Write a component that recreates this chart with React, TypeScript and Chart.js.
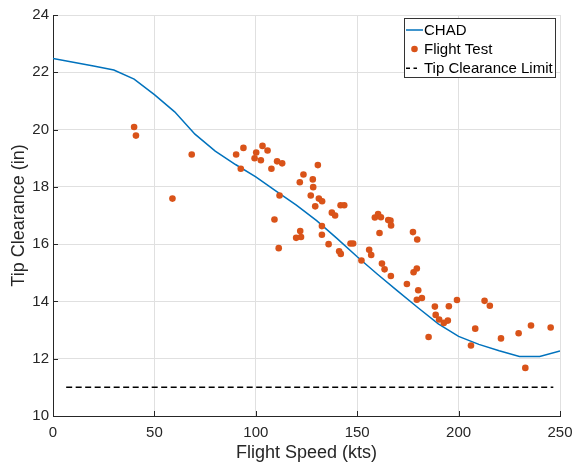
import React, { useEffect, useRef } from "react";
import { Chart, registerables } from "chart.js";

Chart.register(...registerables);

// CHAD prediction (speed in kts, clearance in inches)
const chadSpeed = [0, 10, 20, 30, 40, 50, 60, 70, 80, 90, 100, 110, 120, 130, 140, 150, 160, 170, 180, 190, 200, 210, 220, 230, 240, 250];
const chadClearance = [22.48, 22.35, 22.22, 22.08, 21.76, 21.22, 20.62, 19.84, 19.25, 18.78, 18.35, 17.85, 17.36, 16.82, 16.2, 15.56, 14.95, 14.36, 13.78, 13.22, 12.78, 12.5, 12.28, 12.08, 12.08, 12.27];

// Flight test measurements
const flightSpeed = [
  40.0, 40.9, 58.9, 68.4, 90.3, 92.6, 93.9, 99.4, 100.2, 102.5,
  103.3, 105.8, 107.7, 110.5, 113.0, 111.7, 109.2, 111.3, 121.7, 123.5,
  130.6, 128.1, 128.3, 127.1, 129.3, 121.9, 119.9, 122.3, 131.1, 132.7,
  141.8, 143.6, 137.5, 139.1, 132.6, 132.6, 135.9, 141.1, 141.9, 146.7,
  148.0, 152.1, 155.9, 156.9, 158.7, 160.3, 161.7, 161.0, 165.3, 166.4,
  166.7, 162.2, 163.5, 166.6, 177.5, 179.6, 177.8, 179.4, 174.5, 180.1,
  179.4, 181.9, 188.3, 188.7, 190.4, 192.7, 194.7, 195.2, 199.2, 185.2,
  206.1, 208.2, 212.8, 215.4, 220.9, 229.6, 232.9, 235.7, 245.4,
];
const flightClearance = [
  20.09, 19.79, 17.59, 19.13, 19.13, 18.63, 19.36, 19.0, 19.2, 18.93,
  19.43, 19.27, 18.63, 18.89, 18.82, 17.7, 16.86, 15.86, 18.16, 18.43,
  18.76, 18.26, 17.99, 17.7, 17.32, 16.46, 16.22, 16.25, 17.59, 17.5,
  17.36, 17.36, 17.1, 17.0, 16.63, 16.33, 16.0, 15.75, 15.66, 16.02,
  16.02, 15.43, 15.8, 15.62, 16.93, 17.05, 16.94, 16.39, 16.84, 16.82,
  16.65, 15.32, 15.12, 14.89, 16.42, 16.16, 15.02, 15.15, 14.61, 14.39,
  14.06, 14.12, 13.82, 13.53, 13.37, 13.25, 13.33, 13.83, 14.05, 12.76,
  12.46, 13.05, 14.02, 13.85, 12.71, 12.89, 11.68, 13.16, 13.09,
];

// Tip clearance limit
const limitSpeed = [6.5, 246.7];
const limitClearance = [11, 11];

const xTicks = [0, 50, 100, 150, 200, 250];
const yTicks = [10, 12, 14, 16, 18, 20, 22, 24];
const legendLabels = ["CHAD", "Flight Test", "Tip Clearance Limit"];
const xTitle = "Flight Speed (kts)";
const yTitle = "Tip Clearance (in)";

const FONT = '"Liberation Sans", Arial, Helvetica, sans-serif';
const AXIS = "#262626";
const GRID = "#e0e0e0";
const BLUE = "#0072BD";
const ORANGE = "#D95319";

const overlay = {
  id: "matlabOverlay",
  afterDraw(chart: any) {
    const { ctx, chartArea, scales } = chart;
    const xs = scales.x;
    const ys = scales.y;
    ctx.save();
    // inward ticks
    ctx.strokeStyle = AXIS;
    ctx.lineWidth = 1;
    xTicks.forEach((v) => {
      const px = Math.round(xs.getPixelForValue(v)) + 0.5;
      ctx.beginPath();
      ctx.moveTo(px, chartArea.bottom);
      ctx.lineTo(px, chartArea.bottom - 5);
      ctx.stroke();
    });
    yTicks.forEach((v) => {
      const py = Math.round(ys.getPixelForValue(v)) + 0.5;
      ctx.beginPath();
      ctx.moveTo(chartArea.left, py);
      ctx.lineTo(chartArea.left + 5, py);
      ctx.stroke();
    });

    // legend box
    const bx = Math.round(chartArea.right) - 155.5;
    const by = Math.round(chartArea.top) + 3.5;
    const bw = 151;
    const bh = 59;
    ctx.fillStyle = "#ffffff";
    ctx.fillRect(bx, by, bw, bh);
    ctx.strokeStyle = "#333333";
    ctx.lineWidth = 1;
    ctx.strokeRect(bx, by, bw, bh);

    const rowY = [by + 11.5, by + 30.5, by + 49.8];
    const sx0 = bx + 1.5;
    const sx1 = bx + 18.5;
    const tx = bx + 19.5;
    ctx.font = `15px ${FONT}`;
    ctx.textBaseline = "middle";
    ctx.textAlign = "left";

    // CHAD
    ctx.strokeStyle = BLUE;
    ctx.lineWidth = 1.5;
    ctx.beginPath();
    ctx.moveTo(sx0, rowY[0]);
    ctx.lineTo(sx1, rowY[0]);
    ctx.stroke();
    // Flight test
    ctx.fillStyle = ORANGE;
    ctx.beginPath();
    ctx.arc((sx0 + sx1) / 2, rowY[1], 3.3, 0, Math.PI * 2);
    ctx.fill();
    // Limit
    ctx.strokeStyle = "#000000";
    ctx.lineWidth = 1.5;
    ctx.setLineDash([4, 3.5]);
    ctx.beginPath();
    ctx.moveTo(sx0, rowY[2]);
    ctx.lineTo(sx1 - 6, rowY[2]);
    ctx.stroke();
    ctx.setLineDash([]);

    ctx.fillStyle = "#000000";
    legendLabels.forEach((t, i) => {
      ctx.fillText(t, tx, rowY[i] + 0.5);
    });
    ctx.restore();
  },
};

export default function App() {
  const ref = useRef<HTMLCanvasElement | null>(null);
  useEffect(() => {
    document.body.style.margin = "0";
    const canvas = ref.current;
    if (!canvas) return;
    const chart = new Chart(canvas, {
      type: "line",
      data: {
        datasets: [
          {
            label: legendLabels[0],
            data: chadSpeed.map((x, i) => ({ x, y: chadClearance[i] })),
            borderColor: BLUE,
            borderWidth: 1.5,
            pointRadius: 0,
            tension: 0,
            fill: false,
            order: 1,
          },
          {
            type: "scatter",
            label: legendLabels[1],
            data: flightSpeed.map((x, i) => ({ x, y: flightClearance[i] })),
            backgroundColor: ORANGE,
            borderColor: ORANGE,
            borderWidth: 0,
            pointRadius: 3.3,
            showLine: false,
            order: 0,
          },
          {
            label: legendLabels[2],
            data: limitSpeed.map((x, i) => ({ x, y: limitClearance[i] })),
            borderColor: "#000000",
            borderWidth: 1.5,
            borderDash: [6, 3.5],
            pointRadius: 0,
            fill: false,
            order: 2,
          },
        ],
      } as any,
      options: {
        animation: false,
        responsive: false,
        devicePixelRatio: 1,
        layout: { padding: { top: 15, right: 14, bottom: 0, left: 0 } },
        plugins: {
          legend: { display: false },
          tooltip: { enabled: false },
        },
        scales: {
          x: {
            type: "linear",
            min: 0,
            max: 250,
            afterFit: (s: any) => {
              s.height = 51;
              s.paddingLeft = 0;
              s.paddingRight = 0;
            },
            afterBuildTicks: (s: any) => {
              s.ticks = xTicks.map((v) => ({ value: v }));
            },
            ticks: { font: { family: FONT, size: 15 }, color: AXIS, padding: 8, maxRotation: 0 },
            grid: { color: GRID, lineWidth: 1, drawTicks: false },
            border: { color: AXIS, width: 1 },
            title: {
              display: true,
              text: xTitle,
              color: AXIS,
              font: { family: FONT, size: 18 },
              padding: { top: 0, bottom: 3 },
            },
          },
          y: {
            type: "linear",
            min: 10,
            max: 24,
            afterFit: (s: any) => {
              s.width = 53;
              s.paddingTop = 0;
              s.paddingBottom = 0;
            },
            afterBuildTicks: (s: any) => {
              s.ticks = yTicks.map((v) => ({ value: v }));
            },
            ticks: { font: { family: FONT, size: 15 }, color: AXIS, padding: 4 },
            grid: { color: GRID, lineWidth: 1, drawTicks: false },
            border: { color: AXIS, width: 1 },
            title: {
              display: true,
              text: yTitle,
              color: AXIS,
              font: { family: FONT, size: 18 },
              padding: { top: 8.5, bottom: 0 },
            },
          },
        },
      } as any,
      plugins: [overlay],
    });
    return () => chart.destroy();
  }, []);
  return (
    <div style={{ width: 574, height: 467 }}>
      <canvas ref={ref} width={574} height={467} style={{ display: "block" }} />
    </div>
  );
}
